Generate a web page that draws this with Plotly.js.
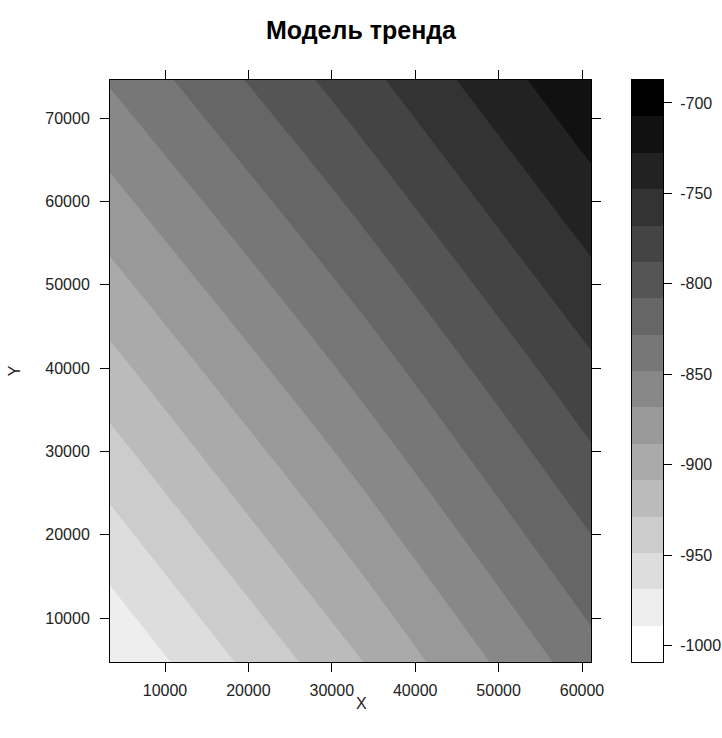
<!DOCTYPE html>
<html><head><meta charset="utf-8">
<script src="https://cdn.plot.ly/plotly-3.0.1.min.js"></script>
<style>html,body{margin:0;padding:0;background:#fff}</style>
</head><body>
<div id="chart" style="width:722px;height:738px"></div>
<script>
// grid of trend values (x, y, z)
const xGrid = [3405, 32240, 61079];
const yGrid = [4720, 39640, 74560];
const zGrid = [
  [-987.8, -912.6, -836.0],
  [-915.8, -844.6, -772.2],
  [-846.2, -777.8, -709.5]
];
// colour key: 16 bands between these limits
const keyMin = -1009.1;
const keyMax = -687.3;
const bandCount = 16;
const bandIndex = [0, 1, 2, 3, 4, 5, 6, 7, 8, 9, 10, 11, 12, 13, 14, 15];
const xTicks = [10000, 20000, 30000, 40000, 50000, 60000];
const xTickLabels = ['10000', '20000', '30000', '40000', '50000', '60000'];
const yTicks = [10000, 20000, 30000, 40000, 50000, 60000, 70000];
const yTickLabels = ['10000', '20000', '30000', '40000', '50000', '60000', '70000'];
const cbTicks = [-1000, -950, -900, -850, -800, -750, -700];
const cbTickLabels = ['-1000', '-950', '-900', '-850', '-800', '-750', '-700'];

const step = (keyMax - keyMin) / bandCount;
const bandEdges = [];
for (let i = 0; i <= bandCount; i++) bandEdges.push(keyMin + i * step);

const FONT = 'Liberation Sans, Arial, sans-serif';
const tickFont = {family: FONT, size: 16, color: '#222'};
const grey = [[0, '#ffffff'], [1, '#000000']];

const surface = {
  type: 'contour',
  x: xGrid, y: yGrid, z: zGrid,
  autocontour: false,
  contours: {start: keyMin + step, end: keyMax - step, size: step, coloring: 'fill', showlines: false},
  line: {width: 0},
  colorscale: grey,
  showscale: false,
  hoverinfo: 'skip',
  xaxis: 'x', yaxis: 'y'
};

const key = {
  type: 'heatmap',
  x: [0, 1],
  y: bandEdges,
  z: bandIndex.map(v => [v]),
  zmin: 0, zmax: bandCount - 1,
  colorscale: grey,
  showscale: false,
  hoverinfo: 'skip',
  xaxis: 'x2', yaxis: 'y2'
};

const PLOT_L = 110, PLOT_R = 663, MAIN_R = 591, KEY_L = 632, PLOT_T = 80, PLOT_B = 662;
const W = PLOT_R - PLOT_L, H = PLOT_B - PLOT_T;

const layout = {
  width: 722, height: 738,
  margin: {l: PLOT_L, r: 722 - PLOT_R, t: PLOT_T, b: 738 - PLOT_B},
  paper_bgcolor: '#fff', plot_bgcolor: '#fff',
  showlegend: false,
  title: {
    text: '<b>Модель тренда</b>',
    font: {family: FONT, size: 25, color: '#000'},
    x: 0.5, xref: 'container', xanchor: 'center',
    y: 1 - 30 / 738, yref: 'container', yanchor: 'middle'
  },
  xaxis: {
    domain: [0, (MAIN_R - PLOT_L) / W],
    range: [3405, 61079], tickmode: 'array', tickvals: xTicks, ticktext: xTickLabels,
    ticks: 'outside', ticklen: 9, tickwidth: 1, tickcolor: '#000', ticklabelstandoff: 5,
    showline: true, linecolor: '#000', linewidth: 1, mirror: 'ticks',
    showgrid: false, zeroline: false, tickfont: tickFont
  },
  yaxis: {
    range: [4720, 74560], tickmode: 'array', tickvals: yTicks, ticktext: yTickLabels,
    ticks: 'outside', ticklen: 9, tickwidth: 1, tickcolor: '#000', ticklabelstandoff: 7,
    showline: true, linecolor: '#000', linewidth: 1, mirror: 'ticks',
    showgrid: false, zeroline: false, tickfont: tickFont,
    title: {text: 'Y', font: {family: FONT, size: 16, color: '#222'}, standoff: 20}
  },
  xaxis2: {
    domain: [(KEY_L - PLOT_L) / W, 1], anchor: 'y2',
    range: [0, 1], showticklabels: false, ticks: '',
    showline: true, linecolor: '#000', linewidth: 1, mirror: true,
    showgrid: false, zeroline: false
  },
  yaxis2: {
    anchor: 'x2', side: 'right',
    range: [keyMin, keyMax], tickmode: 'array', tickvals: cbTicks, ticktext: cbTickLabels,
    ticks: 'outside', ticklen: 8, tickwidth: 1, tickcolor: '#000', ticklabelstandoff: 5,
    showline: true, linecolor: '#000', linewidth: 1, mirror: true,
    showgrid: false, zeroline: false, tickfont: tickFont
  },
  annotations: [{
    text: 'X', showarrow: false,
    xref: 'paper', yref: 'paper',
    x: (361 - PLOT_L) / W, y: (PLOT_B - 703) / H,
    xanchor: 'center', yanchor: 'middle',
    font: {family: FONT, size: 16, color: '#222'}
  }]
};

Plotly.newPlot('chart', [surface, key], layout, {displayModeBar: false, staticPlot: true});
</script>
</body></html>
